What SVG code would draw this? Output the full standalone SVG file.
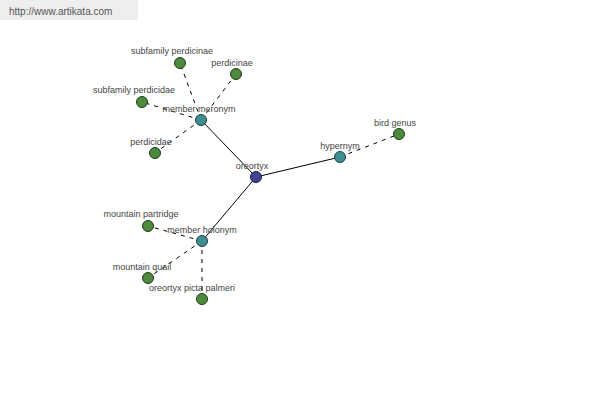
<svg xmlns="http://www.w3.org/2000/svg" width="600" height="400" viewBox="0 0 600 400">
<style>
.lbl{font-family:"Liberation Sans",Arial,sans-serif;font-size:9px;fill:#444;text-anchor:middle}
.leaf{fill:#4e8a3e;stroke:#1f3a18;stroke-width:1}
.hub{fill:#3f8e91;stroke:#1d3f40;stroke-width:1}
.root{fill:#3f4490;stroke:#1c1f44;stroke-width:1}
.solid{stroke:#000;stroke-width:1;fill:none}
.dash{stroke:#000;stroke-width:1;fill:none;stroke-dasharray:4,5}
</style>
<rect x="0" y="0" width="138" height="20" fill="#eeeeee"/>
<text x="9" y="15" style="font-family:'Liberation Sans',Arial,sans-serif;font-size:10px;fill:#555">http://www.artikata.com</text>
<g id="connectors">
<line class="solid" x1="256" y1="177" x2="201" y2="120"/>
<line class="solid" x1="256" y1="177" x2="340" y2="157"/>
<line class="solid" x1="256" y1="177" x2="202" y2="241"/>
<line class="dash" x1="340" y1="157" x2="399" y2="134"/>
<line class="dash" x1="201" y1="120" x2="180" y2="63"/>
<line class="dash" x1="201" y1="120" x2="236" y2="74"/>
<line class="dash" x1="201" y1="120" x2="142" y2="102"/>
<line class="dash" x1="201" y1="120" x2="155" y2="153"/>
<line class="dash" x1="202" y1="241" x2="148" y2="226"/>
<line class="dash" x1="202" y1="241" x2="148" y2="278"/>
<line class="dash" x1="202" y1="241" x2="202" y2="299"/>
</g>
<g id="n-oreortyx"><circle class="root" cx="256" cy="177" r="5.5"/><text class="lbl" x="252" y="169">oreortyx</text></g>
<g id="n-member-meronym"><circle class="hub" cx="201" cy="120" r="5.5"/><text class="lbl" x="199" y="112">member meronym</text></g>
<g id="n-hypernym"><circle class="hub" cx="340" cy="157" r="5.5"/><text class="lbl" x="340" y="149">hypernym</text></g>
<g id="n-member-holonym"><circle class="hub" cx="202" cy="241" r="5.5"/><text class="lbl" x="202" y="233">member holonym</text></g>
<g id="n-bird-genus"><circle class="leaf" cx="399" cy="134" r="5.5"/><text class="lbl" x="395" y="126">bird genus</text></g>
<g id="n-subfamily-perdicinae"><circle class="leaf" cx="180" cy="63" r="5.5"/><text class="lbl" x="172" y="54">subfamily perdicinae</text></g>
<g id="n-perdicinae"><circle class="leaf" cx="236" cy="74" r="5.5"/><text class="lbl" x="232" y="66">perdicinae</text></g>
<g id="n-subfamily-perdicidae"><circle class="leaf" cx="142" cy="102" r="5.5"/><text class="lbl" x="134" y="93">subfamily perdicidae</text></g>
<g id="n-perdicidae"><circle class="leaf" cx="155" cy="153" r="5.5"/><text class="lbl" x="151" y="145">perdicidae</text></g>
<g id="n-mountain-partridge"><circle class="leaf" cx="148" cy="226" r="5.5"/><text class="lbl" x="141" y="217">mountain partridge</text></g>
<g id="n-mountain-quail"><circle class="leaf" cx="148" cy="278" r="5.5"/><text class="lbl" x="142" y="270">mountain quail</text></g>
<g id="n-oreortyx-picta-palmeri"><circle class="leaf" cx="202" cy="299" r="5.5"/><text class="lbl" x="192" y="291">oreortyx picta palmeri</text></g>
</svg>
